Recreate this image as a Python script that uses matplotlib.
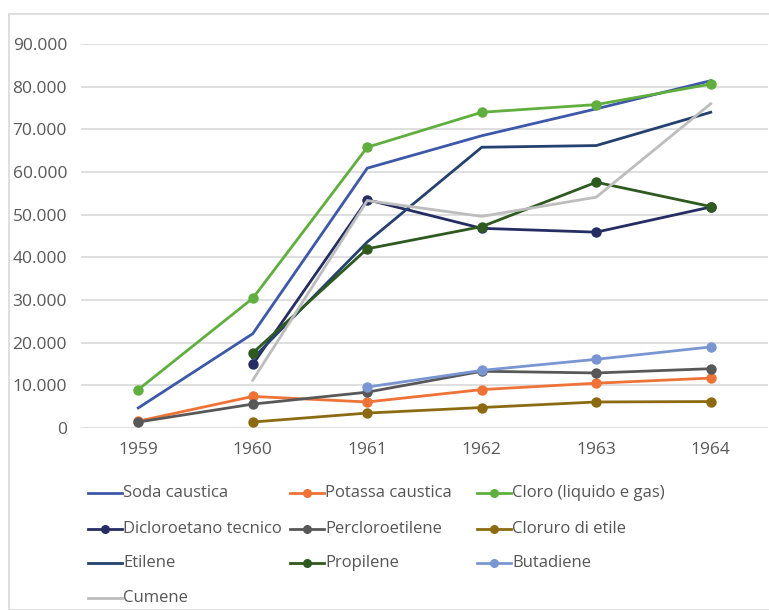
import matplotlib
matplotlib.use("Agg")
import matplotlib.pyplot as plt
from matplotlib.lines import Line2D
from matplotlib.patches import Rectangle
from matplotlib.ticker import FuncFormatter
import numpy as np

years = ["1959", "1960", "1961", "1962", "1963", "1964"]

soda_caustica = [4700, 22100, 60900, 68500, 74800, 81400]
potassa_caustica = [1600, 7400, 6100, 9000, 10500, 11700]
cloro = [9000, 30400, 65800, 74000, 75800, 80600]
dicloroetano = [None, 14900, 53500, 46800, 45900, 51800]
percloroetilene = [1400, 5600, 8400, 13300, 12900, 13900]
cloruro_etile = [None, 1400, 3500, 4800, 6100, 6200]
etilene = [None, 16300, 43600, 65800, 66200, 74000]
propilene = [None, 17600, 42000, 47200, 57600, 51900]
butadiene = [None, None, 9600, 13500, 16100, 19000]
cumene = [None, 11200, 53300, 49600, 54100, 76000]

names = ["Soda caustica", "Potassa caustica", "Cloro (liquido e gas)",
         "Dicloroetano tecnico", "Percloroetilene", "Cloruro di etile",
         "Etilene", "Propilene", "Butadiene", "Cumene"]
values = [soda_caustica, potassa_caustica, cloro, dicloroetano, percloroetilene,
          cloruro_etile, etilene, propilene, butadiene, cumene]
colors = ["#3D58A8", "#EF7236", "#5FAE3E", "#252D62", "#585858",
          "#8C6A12", "#24416F", "#2F5A1F", "#7A96D2", "#BDBDBD"]
markers = [False, True, True, True, True, True, False, True, True, False]

plt.rcParams['font.family'] = ['Open Sans', 'DejaVu Sans']

W, H = 769, 610
fig = plt.figure(figsize=(W / 100, H / 100), dpi=100)
fig.patch.set_facecolor("white")

# outer chart frame
fig.add_artist(Rectangle((9 / W, 0), (W - 9) / W + 0.01, (H - 14) / H,
                         transform=fig.transFigure, fill=False,
                         edgecolor="#D9D9D9", linewidth=1.2))

left, right, top, bottom = 81, 768, 44, 428
ax = fig.add_axes([left / W, 1 - bottom / H, (right - left) / W, (bottom - top) / H])

x = np.arange(len(years))
for i in range(len(names)):
    y = np.array([np.nan if v is None else v for v in values[i]], dtype=float)
    ax.plot(x, y, color=colors[i], lw=2.0, solid_joinstyle="miter",
            marker="o" if markers[i] else None, markersize=7.5,
            markeredgewidth=0, clip_on=False, zorder=3, label=names[i])

ax.set_xlim(-0.5, len(years) - 0.5)
ax.set_ylim(0, 90000)
ax.set_yticks(np.arange(0, 90001, 10000))
ax.yaxis.set_major_formatter(FuncFormatter(lambda v, p: f"{int(v):,}".replace(",", ".")))
ax.set_xticks(x)
ax.set_xticklabels(years)
ax.grid(axis="y", color="#D9D9D9", lw=1.2)
ax.set_axisbelow(True)
for s in ax.spines.values():
    s.set_visible(False)
ax.tick_params(axis="both", length=0, labelsize=12.5, labelcolor="#595959")
ax.tick_params(axis="y", pad=10)
ax.tick_params(axis="x", pad=10)

# legend, drawn row by row in three columns
col_x = [88, 290, 477]
row_y = [493, 529, 563, 598]
for k, name in enumerate(names):
    r, c = divmod(k, 3)
    x0 = col_x[c]
    yy = 1 - row_y[r] / H
    fig.add_artist(Line2D([x0 / W, (x0 + 34) / W], [yy, yy], transform=fig.transFigure,
                          color=colors[k], lw=2.0))
    if markers[k]:
        fig.add_artist(Line2D([(x0 + 17) / W], [yy], transform=fig.transFigure,
                              color=colors[k], marker="o", markersize=6.5,
                              markeredgewidth=0))
    fig.text((x0 + 35) / W, yy, name, fontsize=12, color="#555555",
             va="center", ha="left")

fig.savefig("out.png", dpi=100)
